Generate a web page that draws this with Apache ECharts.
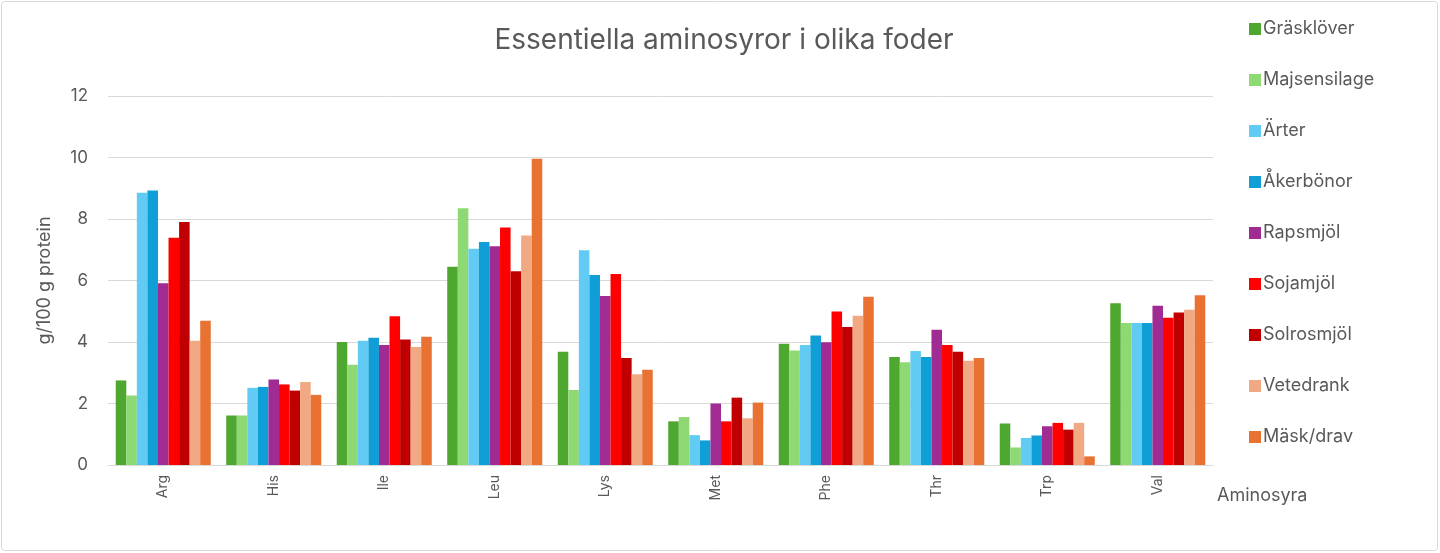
<!DOCTYPE html>
<html>
<head>
    <meta charset="utf-8">
    <title>Essentiella aminosyror</title>
    <style>
        html, body { margin: 0; padding: 0; background: #fff; }
        #main { width: 1440px; height: 553px; }
    </style>
</head>
<body>
    <div id="main"></div>
    <script src="https://cdn.jsdelivr.net/npm/echarts@6/dist/echarts.min.js"></script>
    <script>
        // aminosyror (x-axel)
        var categories = ['Arg', 'His', 'Ile', 'Leu', 'Lys', 'Met', 'Phe', 'Thr', 'Trp', 'Val'];
        var yTicks = [0, 2, 4, 6, 8, 10, 12];

        // g/100 g protein per foder
        var grasklover   = [2.75, 1.61, 4.00, 6.45, 3.68, 1.42, 3.94, 3.51, 1.35, 5.26];
        var majsensilage = [2.26, 1.61, 3.26, 8.35, 2.44, 1.56, 3.72, 3.34, 0.57, 4.62];
        var arter        = [8.85, 2.51, 4.04, 7.03, 6.98, 0.97, 3.90, 3.71, 0.88, 4.62];
        var akerbonor    = [8.93, 2.54, 4.14, 7.25, 6.18, 0.80, 4.21, 3.51, 0.96, 4.62];
        var rapsmjol     = [5.91, 2.78, 3.90, 7.11, 5.50, 2.00, 3.99, 4.40, 1.26, 5.18];
        var sojamjol     = [7.39, 2.62, 4.84, 7.72, 6.21, 1.42, 4.99, 3.90, 1.37, 4.79];
        var solrosmjol   = [7.90, 2.42, 4.08, 6.30, 3.48, 2.19, 4.49, 3.68, 1.15, 4.96];
        var vetedrank    = [4.04, 2.70, 3.84, 7.46, 2.95, 1.52, 4.85, 3.39, 1.37, 5.05];
        var maskdrav     = [4.69, 2.28, 4.17, 9.96, 3.10, 2.03, 5.47, 3.48, 0.28, 5.52];

        var seriesNames = ['Gräsklöver', 'Majsensilage', 'Ärter', 'Åkerbönor', 'Rapsmjöl',
                           'Sojamjöl', 'Solrosmjöl', 'Vetedrank', 'Mäsk/drav'];
        var seriesData = [grasklover, majsensilage, arter, akerbonor, rapsmjol,
                          sojamjol, solrosmjol, vetedrank, maskdrav];
        var colors = ['#4EA72E', '#8ED973', '#61CBF3', '#0F9ED5', '#A02B93',
                      '#FF0000', '#C00000', '#F1A983', '#E97132'];

        var font = 'Inter, "Noto Sans", sans-serif';
        var textColor = '#595959';

        var series = seriesNames.map(function (name, i) {
            return {
                name: name,
                type: 'bar',
                barGap: '0%',
                barCategoryGap: '14%',
                itemStyle: { color: colors[i] },
                data: seriesData[i]
            };
        });

        var myChart = echarts.init(document.getElementById('main'));
        var option = {
            backgroundColor: '#fff',
            color: colors,
            animation: false,
            graphic: [{
                type: 'rect',
                shape: { x: 1.5, y: 1.5, width: 1436, height: 549, r: 3 },
                style: { fill: 'none', stroke: '#d9d9d9', lineWidth: 1 },
                silent: true
            }],
            title: {
                text: 'Essentiella aminosyror i olika foder',
                left: 719,
                textAlign: 'center',
                top: 22,
                textStyle: { fontFamily: font, fontSize: 28, fontWeight: 'normal', color: textColor }
            },
            legend: {
                orient: 'vertical',
                left: 1244,
                top: 15,
                itemWidth: 12,
                itemHeight: 12,
                itemGap: 33,
                icon: 'rect',
                textStyle: { fontFamily: font, fontSize: 18, color: textColor, padding: [0, 0, 0, -3] },
                data: seriesNames
            },
            grid: { left: 108, right: 227, top: 96, bottom: 88 },
            xAxis: {
                type: 'category',
                data: categories,
                name: 'Aminosyra',
                nameLocation: 'end',
                nameGap: 4,
                nameTextStyle: {
                    fontFamily: font, fontSize: 18, color: textColor,
                    align: 'left', verticalAlign: 'top', padding: [22, 0, 0, 0]
                },
                axisLine: { lineStyle: { color: '#d9d9d9' } },
                axisTick: { show: false },
                axisLabel: { rotate: 90, fontFamily: font, fontSize: 14, color: textColor, margin: 10 }
            },
            yAxis: {
                type: 'value',
                min: yTicks[0],
                max: yTicks[yTicks.length - 1],
                interval: yTicks[1] - yTicks[0],
                name: 'g/100 g protein',
                nameLocation: 'middle',
                nameGap: 54,
                nameTextStyle: { fontFamily: font, fontSize: 18, color: textColor },
                axisLine: { show: false },
                axisTick: { show: false },
                axisLabel: { fontFamily: font, fontSize: 17, color: textColor, margin: 20 },
                splitLine: { lineStyle: { color: '#d9d9d9', width: 1 } }
            },
            series: series
        };
        myChart.setOption(option);
    </script>
</body>
</html>
